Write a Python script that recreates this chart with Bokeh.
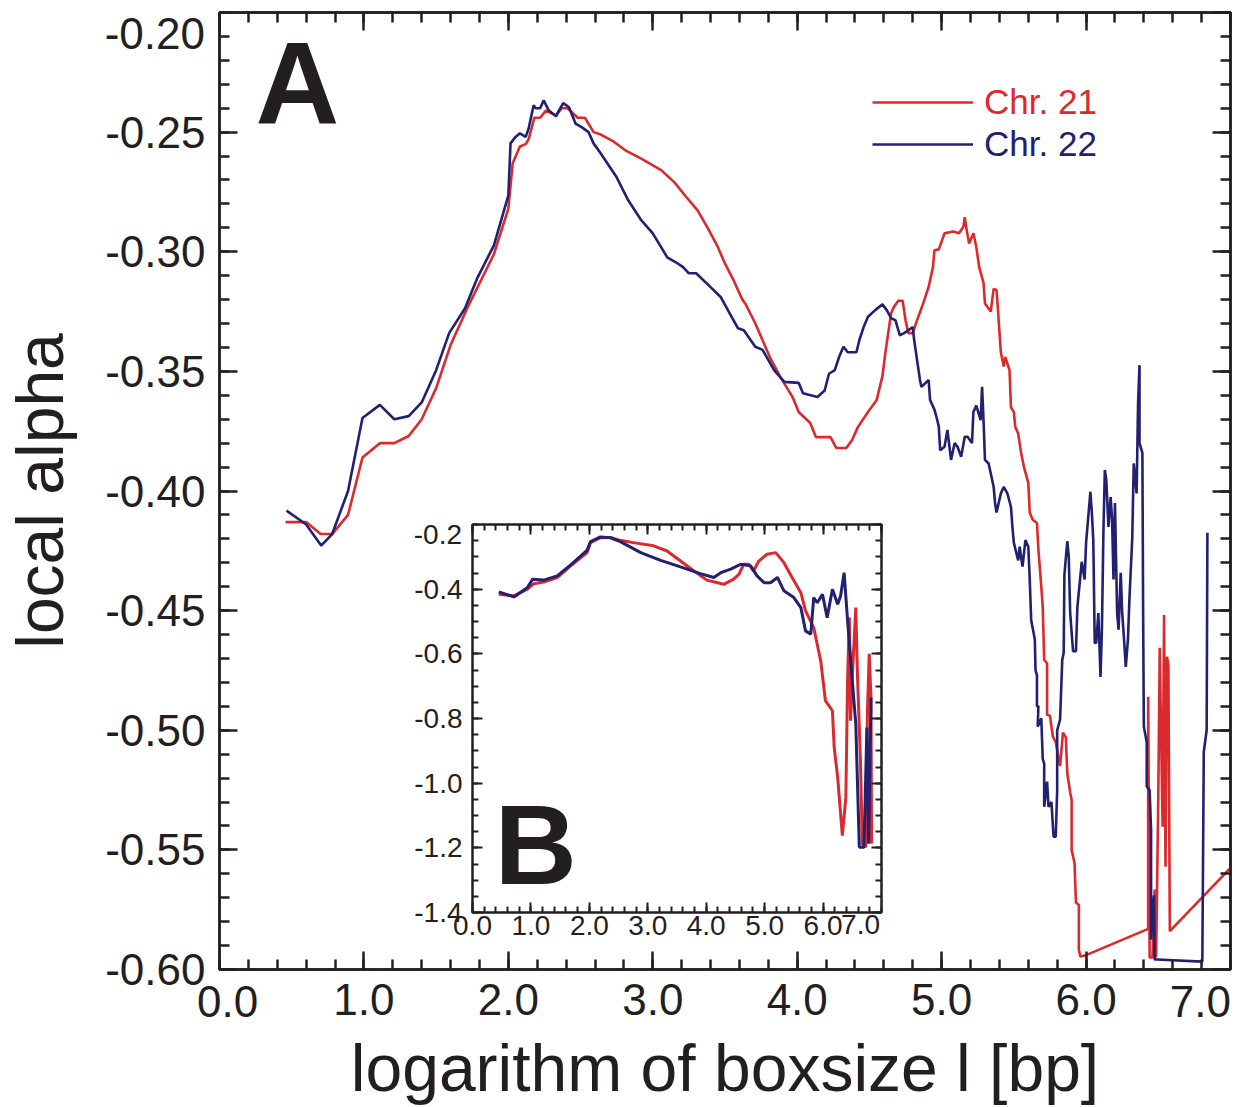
import numpy as np
from bokeh.plotting import figure
from bokeh.models import (Label, Legend, LegendItem, LinearAxis, FixedTicker,
                          NumeralTickFormatter, Range1d, Div)
from bokeh.embed import file_html
from bokeh.resources import INLINE

# ---------------- data ----------------
# Main panel A, Chr. 21 (red)
chr21_x = [0.457, 0.60, 0.70, 0.78, 0.89, 0.99, 1.11, 1.21, 1.31, 1.40, 1.50, 1.60, 1.72, 1.90, 2.00,
           2.03, 2.08, 2.12, 2.14, 2.18, 2.22, 2.26, 2.33, 2.37, 2.41, 2.48, 2.53, 2.59, 2.64, 2.73,
           2.81, 2.92, 3.06, 3.15, 3.23, 3.31, 3.38, 3.45, 3.50, 3.56, 3.62, 3.64, 3.71, 3.76, 3.81,
           3.88, 3.97, 4.01, 4.09, 4.13, 4.23, 4.27, 4.34, 4.38, 4.42, 4.49, 4.55, 4.59, 4.61, 4.63,
           4.65, 4.67, 4.70, 4.73, 4.75, 4.77, 4.80, 4.83, 4.87, 4.91, 4.94, 4.95, 4.98, 5.02, 5.08,
           5.12, 5.15, 5.16, 5.17, 5.19, 5.22, 5.24, 5.26, 5.29, 5.30, 5.34, 5.36, 5.38, 5.39, 5.41,
           5.43, 5.44, 5.47, 5.48, 5.50, 5.51, 5.53, 5.55, 5.57, 5.60, 5.61, 5.63, 5.66, 5.67, 5.69,
           5.70, 5.71, 5.73, 5.73, 5.75, 5.77, 5.79, 5.82, 5.84, 5.86, 5.87, 5.89, 5.90, 5.90, 5.92,
           5.93, 5.95, 5.95, 5.96, 6.00, 6.43, 6.43, 6.44, 6.46, 6.475, 6.485, 6.50, 6.51, 6.53, 6.54,
           6.55, 6.56, 6.57, 6.58, 7.00]
chr21_y = [-0.413, -0.413, -0.418, -0.418, -0.410, -0.386, -0.380, -0.380, -0.377, -0.370, -0.357,
           -0.339, -0.323, -0.301, -0.282, -0.263, -0.256, -0.255, -0.253, -0.244, -0.244, -0.241,
           -0.243, -0.240, -0.240, -0.244, -0.244, -0.250, -0.251, -0.254, -0.2576, -0.2611, -0.266,
           -0.271, -0.277, -0.2827, -0.290, -0.298, -0.305, -0.312, -0.320, -0.3216, -0.330, -0.337,
           -0.344, -0.352, -0.361, -0.367, -0.3716, -0.3775, -0.3775, -0.382, -0.382, -0.3787,
           -0.3733, -0.367, -0.362, -0.352, -0.3424, -0.334, -0.3257, -0.323, -0.3205, -0.3205,
           -0.3286, -0.334, -0.334, -0.3286, -0.322, -0.3147, -0.3064, -0.2994, -0.299, -0.2923,
           -0.2915, -0.2923, -0.2897, -0.2856, -0.2897, -0.2966, -0.2923, -0.298, -0.3064, -0.313,
           -0.3216, -0.325, -0.3155, -0.316, -0.3244, -0.342, -0.348, -0.344, -0.3495, -0.365,
           -0.367, -0.3733, -0.376, -0.384, -0.390, -0.3966, -0.409, -0.412, -0.4134, -0.4246,
           -0.440, -0.4484, -0.4706, -0.472, -0.4935, -0.494, -0.5026, -0.505, -0.515, -0.501,
           -0.503, -0.518, -0.526, -0.529, -0.550, -0.5555, -0.572, -0.573, -0.5917, -0.5946,
           -0.594, -0.583, -0.486, -0.595, -0.595, -0.5666, -0.595, -0.528, -0.4655, -0.5403,
           -0.4518, -0.557, -0.4693, -0.4727, -0.584, -0.5575]

# Main panel A, Chr. 22 (blue)
chr22_x = [0.464, 0.60, 0.704, 0.78, 0.89, 0.99, 1.11, 1.21, 1.31, 1.40, 1.50, 1.59, 1.70, 1.785,
           1.90, 2.00, 2.015, 2.05, 2.08, 2.12, 2.14, 2.175, 2.19, 2.22, 2.245, 2.28, 2.33, 2.35,
           2.38, 2.42, 2.465, 2.51, 2.555, 2.59, 2.64, 2.75, 2.83, 2.92, 3.00, 3.10, 3.16, 3.21,
           3.25, 3.30, 3.40, 3.47, 3.52, 3.59, 3.63, 3.71, 3.76, 3.84, 3.91, 4.01, 4.04, 4.14, 4.19,
           4.22, 4.26, 4.29, 4.32, 4.35, 4.41, 4.43, 4.46, 4.49, 4.54, 4.59, 4.62, 4.65, 4.68, 4.71,
           4.74, 4.77, 4.80, 4.81, 4.83, 4.85, 4.86, 4.885, 4.91, 4.92, 4.95, 4.97, 4.98, 4.99, 5.02,
           5.04, 5.065, 5.09, 5.11, 5.135, 5.16, 5.18, 5.21, 5.22, 5.24, 5.27, 5.28, 5.29, 5.30,
           5.325, 5.345, 5.36, 5.37, 5.38, 5.41, 5.43, 5.455, 5.48, 5.49, 5.50, 5.53, 5.54, 5.56,
           5.58, 5.60, 5.61, 5.62, 5.645, 5.65, 5.66, 5.66, 5.67, 5.665, 5.69, 5.70, 5.71, 5.71,
           5.73, 5.74, 5.76, 5.775, 5.79, 5.80, 5.80, 5.82, 5.835, 5.845, 5.85, 5.87, 5.88, 5.89,
           5.91, 5.93, 5.94, 5.97, 5.99, 6.00, 6.03, 6.04, 6.05, 6.06, 6.07, 6.085, 6.10, 6.11,
           6.12, 6.13, 6.14, 6.155, 6.17, 6.18, 6.19, 6.20, 6.215, 6.225, 6.24, 6.25, 6.26, 6.275,
           6.29, 6.30, 6.32, 6.33, 6.35, 6.36, 6.37, 6.37, 6.39, 6.395, 6.40, 6.42, 6.42, 6.44,
           6.45, 6.45, 6.47, 6.475, 6.49, 6.805, 6.815, 6.835, 6.84]
chr22_y = [-0.4082, -0.414, -0.4228, -0.418, -0.400, -0.3695, -0.364, -0.370, -0.3687, -0.363,
           -0.3495, -0.334, -0.3236, -0.311, -0.2973, -0.2764, -0.2547, -0.252, -0.2505, -0.252,
           -0.2486, -0.2388, -0.240, -0.240, -0.2367, -0.241, -0.2434, -0.241, -0.2379, -0.2396,
           -0.2464, -0.248, -0.250, -0.2547, -0.2589, -0.2689, -0.2785, -0.2868, -0.2923, -0.3023,
           -0.3044, -0.3064, -0.309, -0.309, -0.3148, -0.3189, -0.3244, -0.332, -0.3328, -0.3397,
           -0.341, -0.3495, -0.3544, -0.3548, -0.3591, -0.3607, -0.358, -0.351, -0.3495, -0.344,
           -0.3397, -0.342, -0.342, -0.337, -0.3315, -0.3272, -0.3244, -0.322, -0.3244, -0.3278,
           -0.3286, -0.3349, -0.334, -0.3328, -0.3315, -0.337, -0.3453, -0.3536, -0.3565, -0.355,
           -0.3536, -0.362, -0.366, -0.3704, -0.373, -0.383, -0.3815, -0.3745, -0.387, -0.380,
           -0.3815, -0.3857, -0.3773, -0.3773, -0.380, -0.367, -0.3643, -0.3704, -0.3565, -0.3704,
           -0.387, -0.3885, -0.394, -0.3983, -0.405, -0.409, -0.401, -0.3983, -0.401, -0.4067,
           -0.415, -0.4217, -0.429, -0.4233, -0.4316, -0.4205, -0.4233, -0.437, -0.454, -0.462,
           -0.475, -0.477, -0.490, -0.490, -0.4985, -0.495, -0.512, -0.514, -0.532, -0.5215,
           -0.532, -0.530, -0.5445, -0.5445, -0.525, -0.500, -0.4956, -0.4706, -0.4676, -0.435,
           -0.421, -0.4273, -0.451, -0.467, -0.467, -0.4484, -0.4296, -0.437, -0.4217, -0.4003,
           -0.409, -0.4205, -0.4635, -0.4635, -0.451, -0.4777, -0.4568, -0.4175, -0.3912, -0.3954,
           -0.415, -0.4025, -0.412, -0.437, -0.405, -0.451, -0.458, -0.4342, -0.451, -0.4593,
           -0.4735, -0.462, -0.4455, -0.4192, -0.3885, -0.401, -0.3633, -0.3474, -0.380, -0.3841,
           -0.450, -0.4985, -0.505, -0.5235, -0.525, -0.5416, -0.5875, -0.569, -0.5958, -0.5958,
           -0.5967, -0.509, -0.4999, -0.4175]

# Inset panel B (full range)
inset21_x = [0.45, 0.71, 0.94, 1.05, 1.22, 1.45, 1.68, 1.96, 2.02, 2.19, 2.36, 2.53, 2.75, 3.10,
             3.33, 3.56, 3.79, 4.01, 4.30, 4.47, 4.56, 4.64, 4.73, 4.81, 4.90, 5.04, 5.19, 5.33,
             5.47, 5.62, 5.70, 5.84, 5.96, 6.04, 6.16, 6.19, 6.25, 6.33, 6.39, 6.42, 6.45, 6.47,
             6.50, 6.56, 6.59, 6.64, 6.67, 6.73, 6.76, 6.79, 6.82, 6.83]
inset21_y = [-0.416, -0.421, -0.400, -0.383, -0.378, -0.364, -0.328, -0.287, -0.256, -0.241,
             -0.240, -0.249, -0.256, -0.266, -0.282, -0.313, -0.344, -0.372, -0.385, -0.369,
             -0.354, -0.323, -0.323, -0.344, -0.313, -0.292, -0.287, -0.318, -0.364, -0.411,
             -0.467, -0.519, -0.622, -0.745, -0.776, -0.889, -0.982, -1.162, -1.044, -0.673,
             -0.488, -0.807, -0.673, -0.457, -0.673, -0.930, -1.187, -1.198, -0.776, -0.600,
             -0.735, -1.187]
inset22_x = [0.45, 0.71, 0.94, 1.03, 1.22, 1.45, 1.68, 1.96, 2.02, 2.19, 2.36, 2.53, 2.88, 3.22,
             3.56, 3.90, 4.13, 4.25, 4.42, 4.59, 4.76, 4.87, 4.99, 5.10, 5.22, 5.33, 5.50, 5.62,
             5.70, 5.79, 5.84, 5.90, 5.99, 6.07, 6.16, 6.25, 6.30, 6.36, 6.42, 6.50, 6.56, 6.62,
             6.70, 6.75, 6.78, 6.82]
inset22_y = [-0.4085, -0.424, -0.395, -0.369, -0.372, -0.359, -0.325, -0.280, -0.253, -0.2386,
             -0.241, -0.253, -0.287, -0.311, -0.331, -0.352, -0.364, -0.349, -0.338, -0.323,
             -0.328, -0.359, -0.380, -0.380, -0.364, -0.405, -0.426, -0.457, -0.529, -0.539,
             -0.426, -0.442, -0.416, -0.488, -0.400, -0.447, -0.421, -0.349, -0.498, -0.683,
             -0.817, -1.198, -1.198, -0.828, -1.187, -0.735]

series_names = ["Chr. 21", "Chr. 22"]
main_x_ticks = [0, 1, 2, 3, 4, 5, 6, 7]
main_x_labels = ["0.0", "1.0", "2.0", "3.0", "4.0", "5.0", "6.0", "7.0"]
main_y_ticks = [-0.60, -0.55, -0.50, -0.45, -0.40, -0.35, -0.30, -0.25, -0.20]
main_y_labels = ["-0.60", "-0.55", "-0.50", "-0.45", "-0.40", "-0.35", "-0.30", "-0.25", "-0.20"]
inset_y_ticks = [-1.4, -1.2, -1.0, -0.8, -0.6, -0.4, -0.2]
inset_y_labels = ["-1.4", "-1.2", "-1.0", "-0.8", "-0.6", "-0.4", "-0.2"]

# ---------------- styling ----------------
RED = "#da2a2e"
BLUE = "#222070"
INK = "#231f20"
FONT = "Liberation Sans"


def style_axis(ax, maj_in, min_in, lw, size, standoff, labels=True):
    ax.axis_line_color = INK
    ax.axis_line_width = lw
    ax.major_tick_line_color = INK
    ax.minor_tick_line_color = INK
    ax.major_tick_line_width = lw
    ax.minor_tick_line_width = lw
    ax.major_tick_in = maj_in
    ax.major_tick_out = 0
    ax.minor_tick_in = min_in
    ax.minor_tick_out = 0
    ax.major_label_text_font = FONT
    ax.major_label_text_font_size = size
    ax.major_label_text_color = INK if labels else None
    ax.major_label_standoff = standoff
    ax.axis_label_text_font = FONT
    ax.axis_label_text_font_style = "normal"
    ax.axis_label_text_color = INK


# ---------------- main figure (A) ----------------
p = figure(width=1232, height=1099, output_backend="svg", toolbar_location=None,
           x_range=Range1d(0, 7), y_range=Range1d(-0.6, -0.2),
           min_border_left=219, min_border_top=4, min_border_right=2, min_border_bottom=137,
           styles={"position": "absolute", "left": "0px", "top": "8px", "z-index": "1"})
p.grid.visible = False
p.outline_line_color = INK
p.outline_line_width = 2.5
p.background_fill_color = "white"
p.border_fill_color = "white"

xminor = list(np.round(np.arange(0, 7.0001, 0.2), 3))
yminor = list(np.round(np.arange(-0.6, -0.1999, 0.01), 3))

xa = p.xaxis[0]
xa.ticker = FixedTicker(ticks=main_x_ticks[1:-1], minor_ticks=xminor)
xa.formatter = NumeralTickFormatter(format="0.0")
style_axis(xa, 18, 10, 2.5, "44px", 14)
xa.axis_label = "logarithm of boxsize l [bp]"
xa.axis_label_text_font_size = "66px"
xa.axis_label_standoff = 13

ya = p.yaxis[0]
ya.ticker = FixedTicker(ticks=main_y_ticks[:-1], minor_ticks=yminor)
ya.formatter = NumeralTickFormatter(format="0.00")
style_axis(ya, 18, 10, 2.5, "44px", 14)
ya.axis_label = "local alpha"
ya.axis_label_text_font_size = "66px"
ya.axis_label_standoff = 25

top = LinearAxis(ticker=FixedTicker(ticks=main_x_ticks, minor_ticks=xminor))
style_axis(top, 18, 10, 2.5, "1px", 0, labels=False)
p.add_layout(top, "above")
right = LinearAxis(ticker=FixedTicker(ticks=main_y_ticks, minor_ticks=yminor))
style_axis(right, 18, 10, 2.5, "1px", 0, labels=False)
p.add_layout(right, "right")

r21 = p.line(chr21_x, chr21_y, line_color=RED, line_width=2.6)
r22 = p.line(chr22_x, chr22_y, line_color=BLUE, line_width=2.6)

for name, rend, col, ly in [(series_names[0], r21, RED, 847), (series_names[1], r22, BLUE, 805)]:
    lg = Legend(items=[LegendItem(label=name, renderers=[rend])], location=(653, ly),
                glyph_width=101, glyph_height=40, label_height=40, label_standoff=11,
                padding=0, margin=0, spacing=0, border_line_color=None,
                background_fill_alpha=0, label_text_font=FONT, label_text_font_size="35px",
                label_text_color=col)
    p.add_layout(lg)

p.add_layout(Label(x=0.25, y=-0.2299, text="A", text_font=FONT, text_font_size="116px",
                   text_font_style="bold", text_color=INK, text_baseline="middle",
                   text_align="left"))

# ---------------- inset figure (B), placed over the main panel ----------------
q = figure(width=501, height=444, output_backend="svg", toolbar_location=None,
           x_range=Range1d(0, 7), y_range=Range1d(-1.4, -0.2),
           min_border_left=70, min_border_top=16, min_border_right=22, min_border_bottom=40,
           styles={"position": "absolute", "left": "402px", "top": "508px", "z-index": "10"})
q.grid.visible = False
q.outline_line_color = INK
q.outline_line_width = 2
q.background_fill_color = "white"
q.border_fill_color = None
q.border_fill_alpha = 0

iyminor = list(np.round(np.arange(-1.4, -0.1999, 0.05), 3))
qx = q.xaxis[0]
qx.ticker = FixedTicker(ticks=main_x_ticks[:-1], minor_ticks=xminor)
qx.formatter = NumeralTickFormatter(format="0.0")
style_axis(qx, 10, 6, 2, "28px", 3)
qy = q.yaxis[0]
qy.ticker = FixedTicker(ticks=inset_y_ticks[:-1], minor_ticks=iyminor)
qy.formatter = NumeralTickFormatter(format="0.0")
style_axis(qy, 10, 6, 2, "28px", 10)
qt = LinearAxis(ticker=FixedTicker(ticks=main_x_ticks, minor_ticks=xminor))
style_axis(qt, 10, 6, 2, "1px", 0, labels=False)
q.add_layout(qt, "above")
qr = LinearAxis(ticker=FixedTicker(ticks=inset_y_ticks, minor_ticks=iyminor))
style_axis(qr, 10, 6, 2, "1px", 0, labels=False)
q.add_layout(qr, "right")

q.line(inset21_x, inset21_y, line_color=RED, line_width=3)
q.line(inset22_x, inset22_y, line_color=BLUE, line_width=3)
q.add_layout(Label(x=0.376, y=-1.19, text="B", text_font=FONT, text_font_size="114px",
                   text_font_style="bold", text_color=INK, text_baseline="middle",
                   text_align="left"))

# ---------------- edge tick labels pulled inside the frame in the original ----------------
def edge_label(text, left, top_px, width, size, align="right"):
    return Div(text=text, width=width, height=size,
               styles={"position": "absolute", "left": f"{left}px", "top": f"{top_px}px",
                       "font-family": FONT, "font-size": f"{size}px", "line-height": f"{size}px",
                       "color": INK, "text-align": align, "margin": "0", "padding": "0",
                       "z-index": "11", "white-space": "nowrap"})

edges = [
    edge_label(main_y_labels[-1], 95, 12, 110, 44),
    edge_label(main_x_labels[-1], 1169, 980, 62, 44),
    edge_label(main_x_labels[0], 197, 980, 64, 44, align="left"),
    edge_label(inset_y_labels[-1], 402, 521, 60, 28),
    edge_label(main_x_labels[-1], 830, 911, 50, 28),
]

open("out.html", "w").write(file_html([p, q] + edges, INLINE))
